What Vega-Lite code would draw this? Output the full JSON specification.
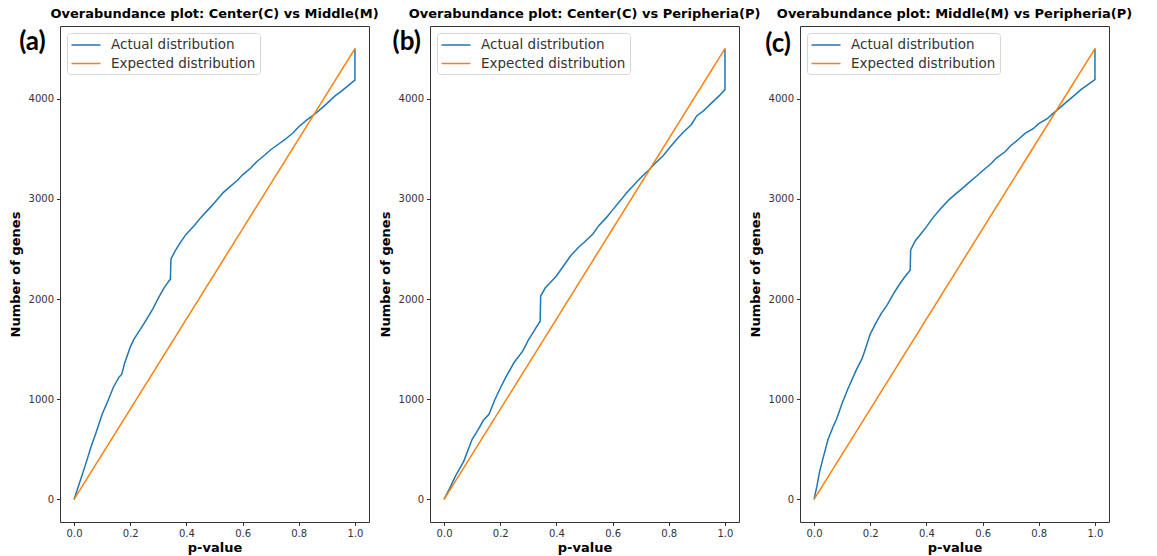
{
  "$schema": "https://vega.github.io/schema/vega-lite/v6.json",
  "padding": {"left": 8, "top": 7, "right": 5, "bottom": 3},
  "bounds": "flush",
  "spacing": 61,
  "datasets": {
    "a": [
      {"series": "Actual distribution", "p": 0, "n": 0},
      {"series": "Actual distribution", "p": 0.02, "n": 170},
      {"series": "Actual distribution", "p": 0.04, "n": 340},
      {"series": "Actual distribution", "p": 0.06, "n": 520},
      {"series": "Actual distribution", "p": 0.07, "n": 600},
      {"series": "Actual distribution", "p": 0.08, "n": 680},
      {"series": "Actual distribution", "p": 0.1, "n": 850},
      {"series": "Actual distribution", "p": 0.12, "n": 980},
      {"series": "Actual distribution", "p": 0.14, "n": 1120},
      {"series": "Actual distribution", "p": 0.16, "n": 1220},
      {"series": "Actual distribution", "p": 0.17, "n": 1250},
      {"series": "Actual distribution", "p": 0.18, "n": 1360},
      {"series": "Actual distribution", "p": 0.2, "n": 1520},
      {"series": "Actual distribution", "p": 0.213, "n": 1597},
      {"series": "Actual distribution", "p": 0.25, "n": 1760},
      {"series": "Actual distribution", "p": 0.28, "n": 1900},
      {"series": "Actual distribution", "p": 0.3, "n": 2010},
      {"series": "Actual distribution", "p": 0.32, "n": 2110},
      {"series": "Actual distribution", "p": 0.34, "n": 2190},
      {"series": "Actual distribution", "p": 0.343, "n": 2195},
      {"series": "Actual distribution", "p": 0.345, "n": 2400},
      {"series": "Actual distribution", "p": 0.36, "n": 2480},
      {"series": "Actual distribution", "p": 0.38, "n": 2570},
      {"series": "Actual distribution", "p": 0.4, "n": 2650},
      {"series": "Actual distribution", "p": 0.43, "n": 2740},
      {"series": "Actual distribution", "p": 0.45, "n": 2810},
      {"series": "Actual distribution", "p": 0.48, "n": 2900},
      {"series": "Actual distribution", "p": 0.5, "n": 2960},
      {"series": "Actual distribution", "p": 0.53, "n": 3060},
      {"series": "Actual distribution", "p": 0.55, "n": 3110},
      {"series": "Actual distribution", "p": 0.58, "n": 3180},
      {"series": "Actual distribution", "p": 0.6, "n": 3240},
      {"series": "Actual distribution", "p": 0.63, "n": 3310},
      {"series": "Actual distribution", "p": 0.65, "n": 3370},
      {"series": "Actual distribution", "p": 0.68, "n": 3440},
      {"series": "Actual distribution", "p": 0.7, "n": 3490},
      {"series": "Actual distribution", "p": 0.73, "n": 3550},
      {"series": "Actual distribution", "p": 0.75, "n": 3590},
      {"series": "Actual distribution", "p": 0.78, "n": 3660},
      {"series": "Actual distribution", "p": 0.8, "n": 3720},
      {"series": "Actual distribution", "p": 0.83, "n": 3790},
      {"series": "Actual distribution", "p": 0.85, "n": 3830},
      {"series": "Actual distribution", "p": 0.88, "n": 3900},
      {"series": "Actual distribution", "p": 0.9, "n": 3950},
      {"series": "Actual distribution", "p": 0.93, "n": 4030},
      {"series": "Actual distribution", "p": 0.95, "n": 4070},
      {"series": "Actual distribution", "p": 0.98, "n": 4140},
      {"series": "Actual distribution", "p": 1.0, "n": 4185},
      {"series": "Actual distribution", "p": 1.0, "n": 4500},
      {"series": "Expected distribution", "p": 0, "n": 0},
      {"series": "Expected distribution", "p": 1.0, "n": 4500}
    ],
    "b": [
      {"series": "Actual distribution", "p": 0, "n": 0},
      {"series": "Actual distribution", "p": 0.02, "n": 110},
      {"series": "Actual distribution", "p": 0.04, "n": 230},
      {"series": "Actual distribution", "p": 0.05, "n": 280},
      {"series": "Actual distribution", "p": 0.07, "n": 380},
      {"series": "Actual distribution", "p": 0.1, "n": 600},
      {"series": "Actual distribution", "p": 0.12, "n": 690},
      {"series": "Actual distribution", "p": 0.14, "n": 790},
      {"series": "Actual distribution", "p": 0.16, "n": 850},
      {"series": "Actual distribution", "p": 0.18, "n": 990},
      {"series": "Actual distribution", "p": 0.2, "n": 1110},
      {"series": "Actual distribution", "p": 0.22, "n": 1220},
      {"series": "Actual distribution", "p": 0.25, "n": 1370},
      {"series": "Actual distribution", "p": 0.28, "n": 1480},
      {"series": "Actual distribution", "p": 0.3, "n": 1590},
      {"series": "Actual distribution", "p": 0.32, "n": 1680},
      {"series": "Actual distribution", "p": 0.34, "n": 1770},
      {"series": "Actual distribution", "p": 0.342, "n": 1775},
      {"series": "Actual distribution", "p": 0.344, "n": 2030},
      {"series": "Actual distribution", "p": 0.36, "n": 2110},
      {"series": "Actual distribution", "p": 0.38, "n": 2170},
      {"series": "Actual distribution", "p": 0.4, "n": 2230},
      {"series": "Actual distribution", "p": 0.42, "n": 2310},
      {"series": "Actual distribution", "p": 0.45, "n": 2430},
      {"series": "Actual distribution", "p": 0.48, "n": 2520},
      {"series": "Actual distribution", "p": 0.5, "n": 2570},
      {"series": "Actual distribution", "p": 0.53, "n": 2650},
      {"series": "Actual distribution", "p": 0.55, "n": 2730},
      {"series": "Actual distribution", "p": 0.58, "n": 2820},
      {"series": "Actual distribution", "p": 0.6, "n": 2890},
      {"series": "Actual distribution", "p": 0.63, "n": 2990},
      {"series": "Actual distribution", "p": 0.65, "n": 3060},
      {"series": "Actual distribution", "p": 0.68, "n": 3150},
      {"series": "Actual distribution", "p": 0.7, "n": 3210},
      {"series": "Actual distribution", "p": 0.73, "n": 3290},
      {"series": "Actual distribution", "p": 0.75, "n": 3350},
      {"series": "Actual distribution", "p": 0.78, "n": 3430},
      {"series": "Actual distribution", "p": 0.8, "n": 3500},
      {"series": "Actual distribution", "p": 0.83, "n": 3600},
      {"series": "Actual distribution", "p": 0.85, "n": 3660},
      {"series": "Actual distribution", "p": 0.88, "n": 3740},
      {"series": "Actual distribution", "p": 0.9, "n": 3830},
      {"series": "Actual distribution", "p": 0.92, "n": 3870},
      {"series": "Actual distribution", "p": 0.95, "n": 3950},
      {"series": "Actual distribution", "p": 0.98, "n": 4030},
      {"series": "Actual distribution", "p": 1.0, "n": 4090},
      {"series": "Actual distribution", "p": 1.0, "n": 4500},
      {"series": "Expected distribution", "p": 0, "n": 0},
      {"series": "Expected distribution", "p": 1.0, "n": 4500}
    ],
    "c": [
      {"series": "Actual distribution", "p": 0, "n": 0},
      {"series": "Actual distribution", "p": 0.01, "n": 130},
      {"series": "Actual distribution", "p": 0.02, "n": 280},
      {"series": "Actual distribution", "p": 0.03, "n": 390},
      {"series": "Actual distribution", "p": 0.05, "n": 600},
      {"series": "Actual distribution", "p": 0.07, "n": 740},
      {"series": "Actual distribution", "p": 0.08, "n": 800},
      {"series": "Actual distribution", "p": 0.1, "n": 960},
      {"series": "Actual distribution", "p": 0.12, "n": 1100},
      {"series": "Actual distribution", "p": 0.15, "n": 1290},
      {"series": "Actual distribution", "p": 0.17, "n": 1400},
      {"series": "Actual distribution", "p": 0.18, "n": 1480},
      {"series": "Actual distribution", "p": 0.2, "n": 1650},
      {"series": "Actual distribution", "p": 0.22, "n": 1760},
      {"series": "Actual distribution", "p": 0.24, "n": 1860},
      {"series": "Actual distribution", "p": 0.26, "n": 1940},
      {"series": "Actual distribution", "p": 0.28, "n": 2040},
      {"series": "Actual distribution", "p": 0.3, "n": 2130},
      {"series": "Actual distribution", "p": 0.32, "n": 2210},
      {"series": "Actual distribution", "p": 0.34, "n": 2280},
      {"series": "Actual distribution", "p": 0.342, "n": 2285},
      {"series": "Actual distribution", "p": 0.344, "n": 2490},
      {"series": "Actual distribution", "p": 0.36, "n": 2580},
      {"series": "Actual distribution", "p": 0.38, "n": 2650},
      {"series": "Actual distribution", "p": 0.4, "n": 2720},
      {"series": "Actual distribution", "p": 0.42, "n": 2800},
      {"series": "Actual distribution", "p": 0.45, "n": 2900},
      {"series": "Actual distribution", "p": 0.48, "n": 2990},
      {"series": "Actual distribution", "p": 0.5, "n": 3040},
      {"series": "Actual distribution", "p": 0.53, "n": 3110},
      {"series": "Actual distribution", "p": 0.55, "n": 3160},
      {"series": "Actual distribution", "p": 0.58, "n": 3230},
      {"series": "Actual distribution", "p": 0.6, "n": 3280},
      {"series": "Actual distribution", "p": 0.63, "n": 3350},
      {"series": "Actual distribution", "p": 0.65, "n": 3410},
      {"series": "Actual distribution", "p": 0.68, "n": 3470},
      {"series": "Actual distribution", "p": 0.7, "n": 3530},
      {"series": "Actual distribution", "p": 0.73, "n": 3600},
      {"series": "Actual distribution", "p": 0.75, "n": 3650},
      {"series": "Actual distribution", "p": 0.78, "n": 3700},
      {"series": "Actual distribution", "p": 0.8, "n": 3750},
      {"series": "Actual distribution", "p": 0.83, "n": 3800},
      {"series": "Actual distribution", "p": 0.85, "n": 3850},
      {"series": "Actual distribution", "p": 0.88, "n": 3920},
      {"series": "Actual distribution", "p": 0.9, "n": 3970},
      {"series": "Actual distribution", "p": 0.93, "n": 4040},
      {"series": "Actual distribution", "p": 0.95, "n": 4090},
      {"series": "Actual distribution", "p": 0.98, "n": 4150},
      {"series": "Actual distribution", "p": 1.0, "n": 4190},
      {"series": "Actual distribution", "p": 1.0, "n": 4500},
      {"series": "Expected distribution", "p": 0, "n": 0},
      {"series": "Expected distribution", "p": 1.0, "n": 4500}
    ]
  },
  "hconcat": [
    {
      "width": 309, "height": 496,
      "title": "Overabundance plot: Center(C) vs Middle(M)",
      "layer": [
        {
          "data": {"name": "a"},
          "mark": {"type": "line", "strokeWidth": 1.5},
          "encoding": {
            "x": {"field": "p", "type": "quantitative", "scale": {"domain": [-0.05, 1.05], "nice": false, "zero": false}, "axis": {"values": [0, 0.2, 0.4, 0.6, 0.8, 1.0], "format": ".1f", "title": "p-value"}},
            "y": {"field": "n", "type": "quantitative", "scale": {"domain": [-225, 4725], "nice": false, "zero": false}, "axis": {"values": [0, 1000, 2000, 3000, 4000], "format": "d", "title": "Number of genes"}},
            "color": {"field": "series", "type": "nominal", "scale": {"domain": ["Actual distribution", "Expected distribution"], "range": ["#1f77b4", "#ff7f0e"]}, "legend": {"title": null, "orient": "top-left"}},
            "order": {"value": null}
          }
        },
        {
          "data": {"values": [{"label": "(a)"}]},
          "mark": {"type": "text", "font": "Lato", "fontWeight": "bold", "fontSize": 26, "align": "center", "baseline": "middle", "clip": false, "color": "black"},
          "encoding": {"x": {"datum": -0.148}, "y": {"datum": 4570}, "text": {"field": "label"}}
        }
      ]
    },
    {
      "width": 309, "height": 496,
      "title": "Overabundance plot: Center(C) vs Peripheria(P)",
      "layer": [
        {
          "data": {"name": "b"},
          "mark": {"type": "line", "strokeWidth": 1.5},
          "encoding": {
            "x": {"field": "p", "type": "quantitative", "scale": {"domain": [-0.05, 1.05], "nice": false, "zero": false}, "axis": {"values": [0, 0.2, 0.4, 0.6, 0.8, 1.0], "format": ".1f", "title": "p-value"}},
            "y": {"field": "n", "type": "quantitative", "scale": {"domain": [-225, 4725], "nice": false, "zero": false}, "axis": {"values": [0, 1000, 2000, 3000, 4000], "format": "d", "title": "Number of genes"}},
            "color": {"field": "series", "type": "nominal", "scale": {"domain": ["Actual distribution", "Expected distribution"], "range": ["#1f77b4", "#ff7f0e"]}, "legend": {"title": null, "orient": "top-left"}},
            "order": {"value": null}
          }
        },
        {
          "data": {"values": [{"label": "(b)"}]},
          "mark": {"type": "text", "font": "Lato", "fontWeight": "bold", "fontSize": 26, "align": "center", "baseline": "middle", "clip": false, "color": "black"},
          "encoding": {"x": {"datum": -0.133}, "y": {"datum": 4570}, "text": {"field": "label"}}
        }
      ]
    },
    {
      "width": 309, "height": 496,
      "title": "Overabundance plot: Middle(M) vs Peripheria(P)",
      "layer": [
        {
          "data": {"name": "c"},
          "mark": {"type": "line", "strokeWidth": 1.5},
          "encoding": {
            "x": {"field": "p", "type": "quantitative", "scale": {"domain": [-0.05, 1.05], "nice": false, "zero": false}, "axis": {"values": [0, 0.2, 0.4, 0.6, 0.8, 1.0], "format": ".1f", "title": "p-value"}},
            "y": {"field": "n", "type": "quantitative", "scale": {"domain": [-225, 4725], "nice": false, "zero": false}, "axis": {"values": [0, 1000, 2000, 3000, 4000], "format": "d", "title": "Number of genes"}},
            "color": {"field": "series", "type": "nominal", "scale": {"domain": ["Actual distribution", "Expected distribution"], "range": ["#1f77b4", "#ff7f0e"]}, "legend": {"title": null, "orient": "top-left"}},
            "order": {"value": null}
          }
        },
        {
          "data": {"values": [{"label": "(c)"}]},
          "mark": {"type": "text", "font": "Lato", "fontWeight": "bold", "fontSize": 26, "align": "center", "baseline": "middle", "clip": false, "color": "black"},
          "encoding": {"x": {"datum": -0.128}, "y": {"datum": 4550}, "text": {"field": "label"}}
        }
      ]
    }
  ],
  "resolve": {"scale": {"color": "independent"}, "legend": {"color": "independent"}},
  "config": {
    "font": "DejaVu Sans",
    "background": "white",
    "view": {"stroke": "#333", "strokeWidth": 1},
    "axis": {"grid": false, "domain": false, "tickColor": "#333", "tickSize": 3.5, "labelFontSize": 10, "labelColor": "#333", "labelPadding": 3, "titleFontSize": 13, "titleFontWeight": "bold", "titleColor": "black"},
    "axisX": {"titlePadding": 3},
    "axisY": {"titlePadding": 6},
    "title": {"fontSize": 13, "fontWeight": "bold", "color": "black", "offset": 5, "anchor": "middle"},
    "legend": {"offset": 7, "padding": 4, "strokeColor": "#d6d6d6", "fillColor": "white", "cornerRadius": 3, "symbolType": "M-2,0H2", "symbolSize": 210, "symbolOffset": 7, "symbolStrokeWidth": 1.5, "labelFontSize": 13.5, "labelColor": "#333", "labelOffset": 17, "rowPadding": 3.5}
  }
}
